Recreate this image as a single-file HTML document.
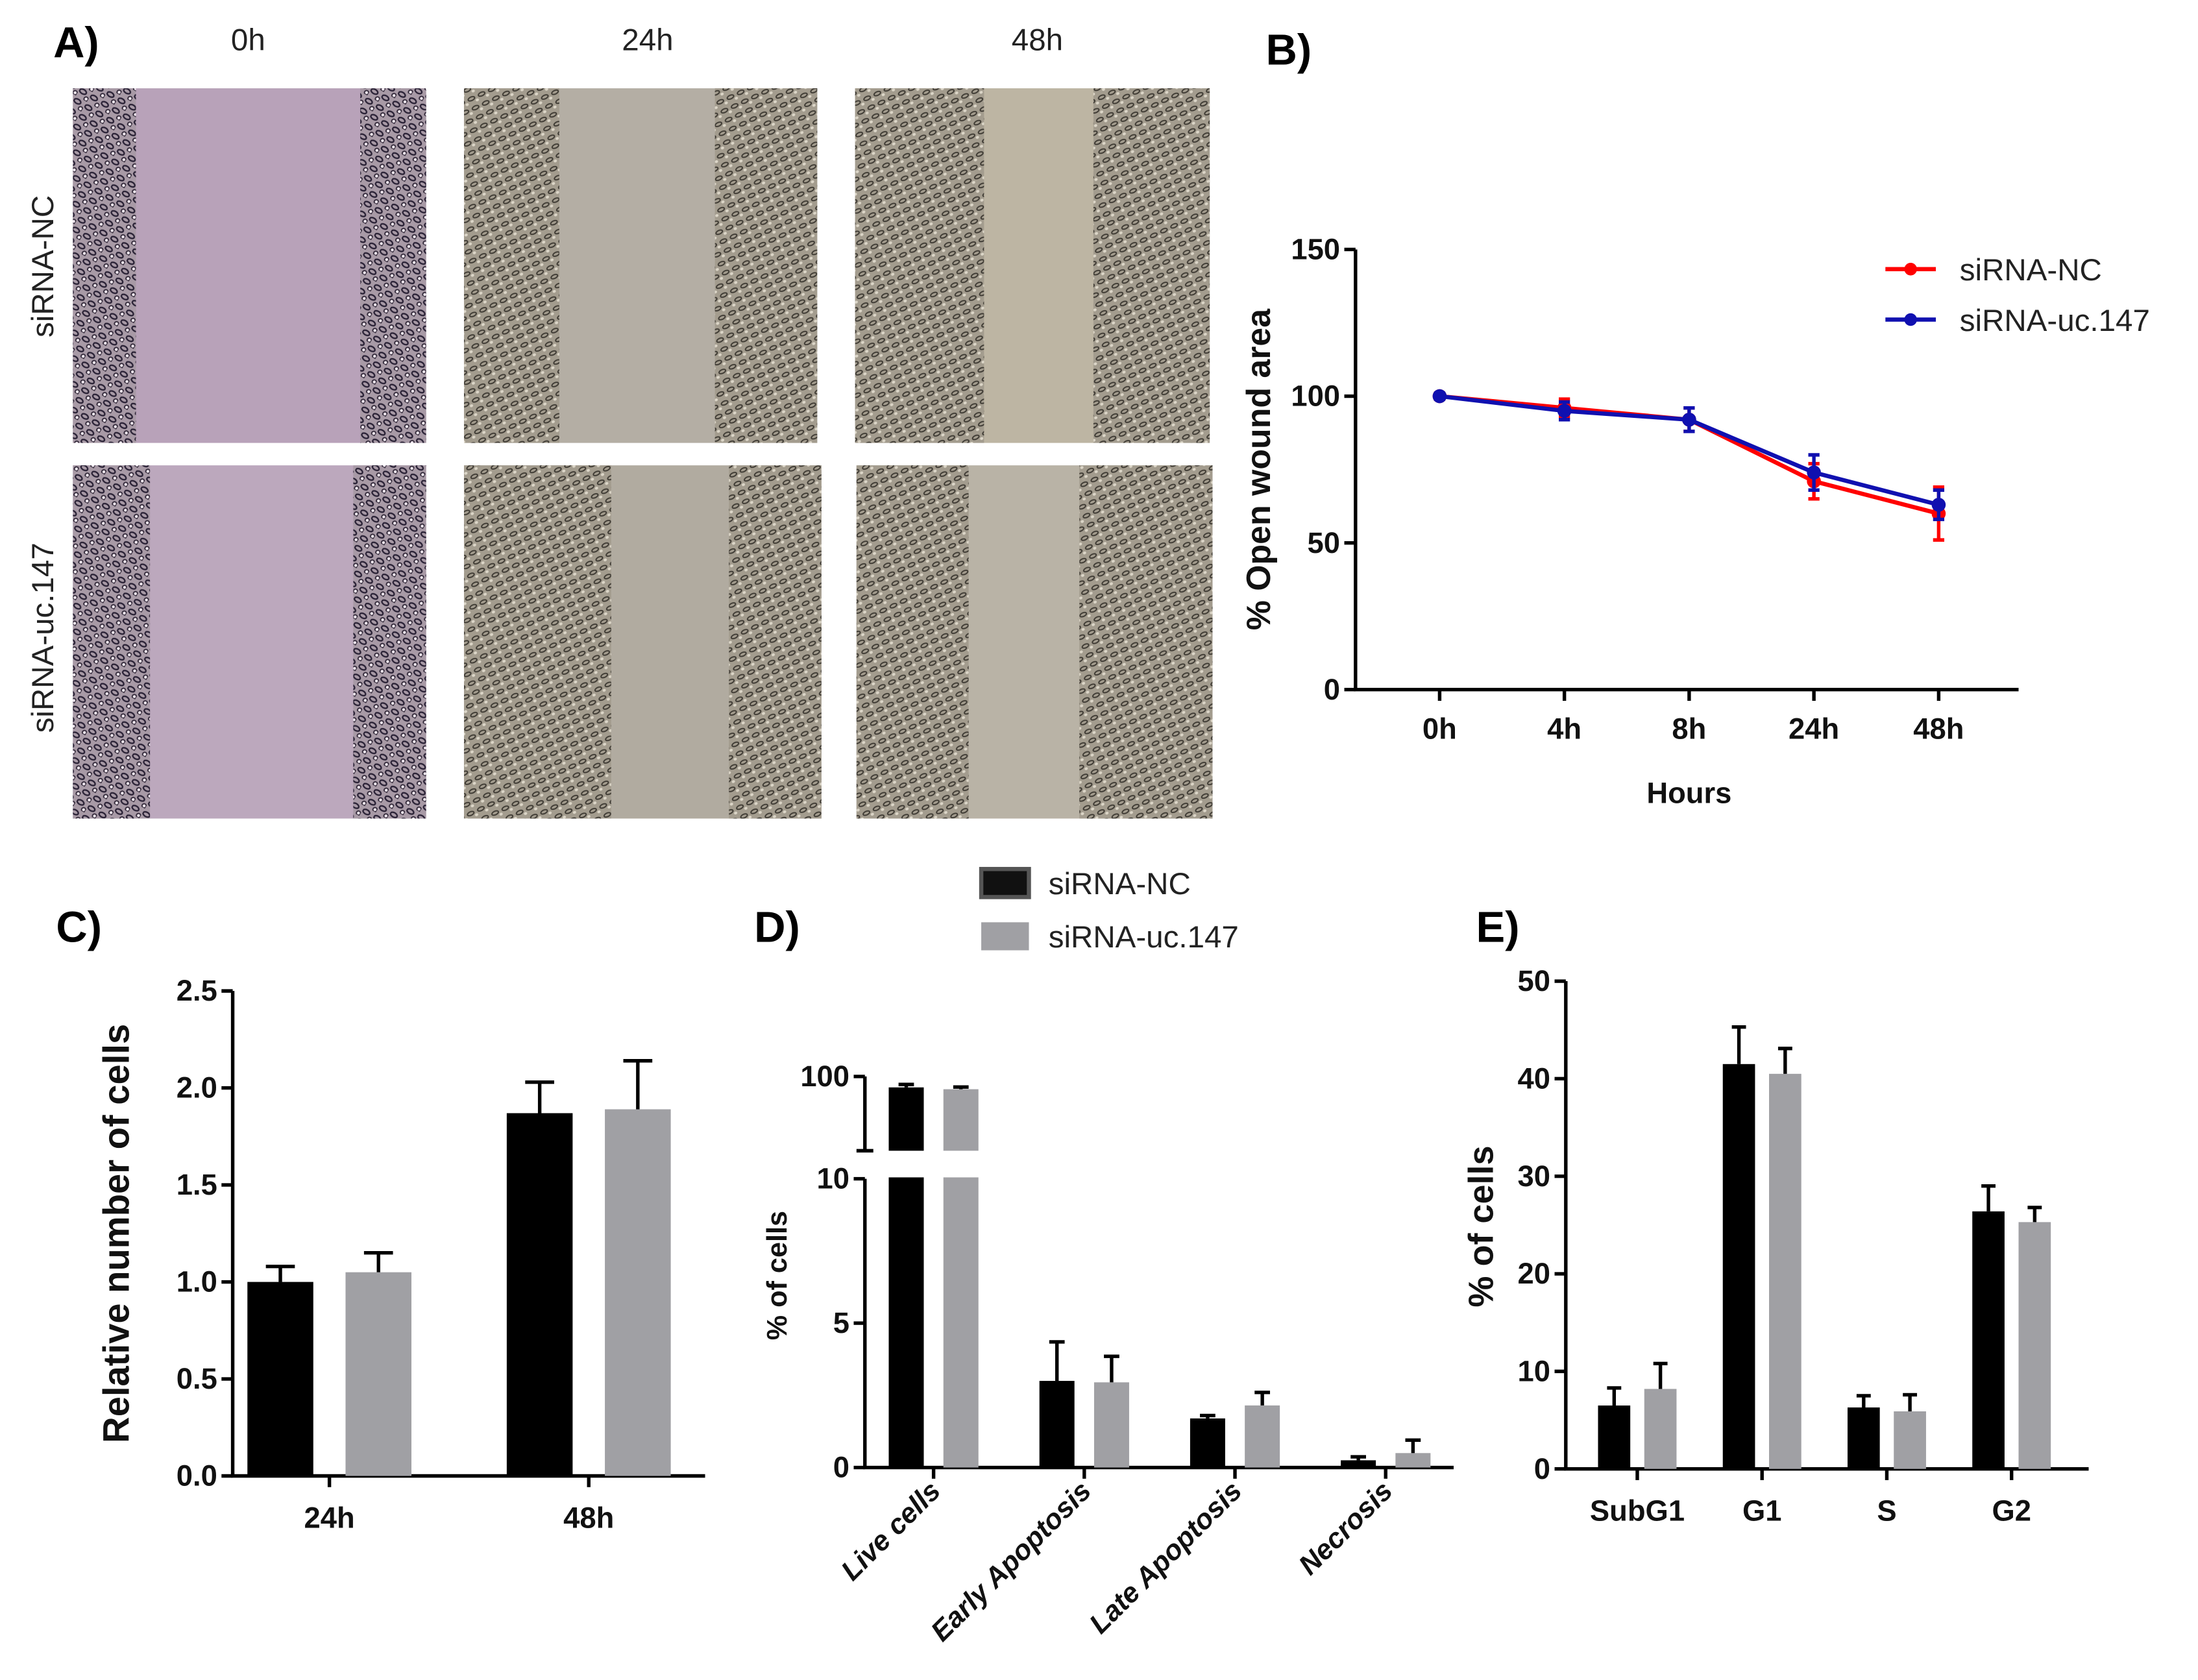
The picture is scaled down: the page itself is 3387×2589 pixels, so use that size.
<!DOCTYPE html>
<html><head><meta charset="utf-8">
<style>
html,body{margin:0;padding:0;background:#fff;}
svg{display:block;}
text{font-family:"Liberation Sans Narrow","Liberation Sans",sans-serif;}
.t{font-weight:bold;font-size:21px;fill:#111;}
.ti{font-family:"Liberation Sans",sans-serif;font-weight:bold;fill:#111;}
.pl{font-family:"Liberation Sans",sans-serif;font-weight:bold;font-size:31px;fill:#000;}
.lg{font-family:"Liberation Sans",sans-serif;font-size:22px;fill:#222;}
</style></head>
<body>
<svg id="fig" width="3387" height="2589" viewBox="0 0 1568 1198.6" preserveAspectRatio="none">
<defs>
<pattern id="cellsP" width="9" height="8" patternUnits="userSpaceOnUse" patternTransform="rotate(30)">
<rect width="9" height="8" fill="#a89aa6"/>
<ellipse cx="3" cy="3" rx="2.6" ry="1.6" fill="none" stroke="#2a2236" stroke-width="1.1"/>
<ellipse cx="7.5" cy="6.5" rx="1.5" ry="1.5" fill="#efe6ee" stroke="#332a3a" stroke-width="0.9"/>
</pattern>
<pattern id="cellsQ" width="8" height="7" patternUnits="userSpaceOnUse" patternTransform="rotate(-25)">
<rect width="8" height="7" fill="#a39c8e"/>
<ellipse cx="3" cy="3" rx="2.5" ry="1.3" fill="none" stroke="#3e3a33" stroke-width="0.9"/>
<ellipse cx="6.5" cy="5.5" rx="1.2" ry="1" fill="#dcd6c8"/>
</pattern>
</defs>

<!-- Panel A -->
<g>
<text class="pl" x="38" y="41">A)</text>
<text class="lg" x="177" y="36" text-anchor="middle">0h</text>
<text class="lg" x="462" y="36" text-anchor="middle">24h</text>
<text class="lg" x="740" y="36" text-anchor="middle">48h</text>
<text class="lg" transform="translate(38,190) rotate(-90)" text-anchor="middle">siRNA-NC</text>
<text class="lg" transform="translate(38,455) rotate(-90)" text-anchor="middle">siRNA-uc.147</text>
<g><rect x="52" y="63" width="252" height="253" fill="#b8a2b9"/><rect x="52" y="63" width="45" height="253" fill="url(#cellsP)"/><rect x="257" y="63" width="47" height="253" fill="url(#cellsP)"/></g>
<g><rect x="331" y="63" width="252" height="253" fill="#b4aea4"/><rect x="331" y="63" width="68" height="253" fill="url(#cellsQ)"/><rect x="510" y="63" width="73" height="253" fill="url(#cellsQ)"/></g>
<g><rect x="610" y="63" width="253" height="253" fill="#bdb5a3"/><rect x="610" y="63" width="92" height="253" fill="url(#cellsQ)"/><rect x="780" y="63" width="83" height="253" fill="url(#cellsQ)"/></g>
<g><rect x="52" y="332" width="252" height="252" fill="#bca8bd"/><rect x="52" y="332" width="55" height="252" fill="url(#cellsP)"/><rect x="252" y="332" width="52" height="252" fill="url(#cellsP)"/></g>
<g><rect x="331" y="332" width="255" height="252" fill="#b1aba0"/><rect x="331" y="332" width="105" height="252" fill="url(#cellsQ)"/><rect x="520" y="332" width="66" height="252" fill="url(#cellsQ)"/></g>
<g><rect x="611" y="332" width="254" height="252" fill="#b9b3a6"/><rect x="611" y="332" width="80" height="252" fill="url(#cellsQ)"/><rect x="770" y="332" width="95" height="252" fill="url(#cellsQ)"/></g>
</g>

<text class="pl" x="903" y="46">B)</text>
<g id="chartB"></g>
<text class="pl" x="40" y="672">C)</text>
<g id="chartC"></g>
<text class="pl" x="538" y="672">D)</text>
<g id="chartD"></g>
<text class="pl" x="1053" y="672">E)</text>
<g id="chartE"></g>
</svg>

<script>
// ---- Panel B data ----
const bCategories = ["0h","4h","8h","24h","48h"];
const bNC = [100, 96, 92, 71, 60];
const bNCerr = [1, 3, 4, 6, 9];
const bUC = [100, 95, 92, 74, 63];
const bUCerr = [1, 3, 4, 6, 5];
const bTicks = [0, 50, 100, 150];
// ---- Panel C data ----
const cCategories = ["24h","48h"];
const cNC = [1.0, 1.87];
const cNCerr = [0.08, 0.16];
const cUC = [1.05, 1.89];
const cUCerr = [0.1, 0.25];
const cTicks = [0, 0.5, 1.0, 1.5, 2.0, 2.5];
// ---- Panel D data ----
const dCategories = ["Live cells","Early Apoptosis","Late Apoptosis","Necrosis"];
const dNC = [97, 3.0, 1.7, 0.25];
const dNCerr = [0.8, 1.35, 0.1, 0.12];
const dUC = [96.5, 2.95, 2.15, 0.5];
const dUCerr = [0.6, 0.9, 0.45, 0.45];
const dTicksLow = [0, 5, 10];
const dTicksHigh = [100];
// ---- Panel E data ----
const eCategories = ["SubG1","G1","S","G2"];
const eNC = [6.5, 41.5, 6.3, 26.4];
const eNCerr = [1.8, 3.8, 1.2, 2.6];
const eUC = [8.2, 40.5, 5.9, 25.3];
const eUCerr = [2.6, 2.6, 1.7, 1.5];
const eTicks = [0, 10, 20, 30, 40, 50];

const NS = "http://www.w3.org/2000/svg";
function mk(parent, tag, attrs, txt){
  const e = document.createElementNS(NS, tag);
  for (const k in attrs) e.setAttribute(k, attrs[k]);
  if (txt !== undefined) e.textContent = txt;
  parent.appendChild(e);
  return e;
}
function fmt(v, d){ return d ? v.toFixed(d) : String(v); }

function yAxis(g, x, yScale, ticks, dec, name){
  for (const t of ticks){
    const y = yScale(t);
    const l = mk(g, "line", {x1:x-8, x2:x, y1:y, y2:y, stroke:"#000","stroke-width":2.5});
    
    
    const tx = mk(g, "text", {x:x-11, y:y+7, "text-anchor":"end", class:"t"}, fmt(t, dec));
    
    
  }
}
function errBar(g, x, y0, y1, col, w, name){
  const a = mk(g, "line", {x1:x, x2:x, y1:y0, y2:y1, stroke:col, "stroke-width":2.5});
  
  
  mk(g, "line", {x1:x-w, x2:x+w, y1:y1, y2:y1, stroke:col, "stroke-width":2.5});
}

// ---- Chart B ----
(function(){
  const g = document.getElementById("chartB");
  const x0 = 967, yB = 492, yT = 178;
  const ys = v => yB - (v/150)*(yB-yT);
  const xs = i => 1027 + i*89;
  const ax = mk(g, "path", {d:`M${x0},${yT} L${x0},${yB} L1440,${yB}`, fill:"none", stroke:"#000", "stroke-width":2.5});
  
  
  yAxis(g, x0, ys, bTicks, 0, 'y-axis');
  bCategories.forEach((c,i)=>{
    mk(g,"line",{x1:xs(i),x2:xs(i),y1:yB,y2:yB+8,stroke:"#000","stroke-width":2.5});
    const t = mk(g,"text",{x:xs(i),y:yB+35,"text-anchor":"middle",class:"t"},c);
    
    
  });
  const xt = mk(g,"text",{x:1205,y:573,"text-anchor":"middle",class:"t","font-size":"25"},"Hours");
  
  
  const yt = mk(g,"text",{transform:"translate(906,335) rotate(-90)","text-anchor":"middle",class:"ti","font-size":"24"},"% Open wound area");
  
  
  const series = [[bNC,bNCerr,"#ff0000","siRNA-NC",-1],[bUC,bUCerr,"#1010b0","siRNA-uc.147",1]];
  series.forEach(([v,e,col,nm,dir],si)=>{
    const line = mk(g,"polyline",{points:v.map((d,i)=>xs(i)+","+ys(d)).join(" "),fill:"none",stroke:col,"stroke-width":3});
    
    
    v.forEach((d,i)=>{
      errBar(g, xs(i), ys(d), ys(d)+(ys(0)-ys(e[i])), col, 4, 'error-bar');
      errBar(g, xs(i), ys(d), ys(d)-(ys(0)-ys(e[i])), col, 4, 'error-bar');
      const p = mk(g,"circle",{cx:xs(i),cy:ys(d),r:5,fill:col});
      
      
    });
    const ly = 192 + si*36;
    const le = mk(g,"line",{x1:1345,x2:1381,y1:ly,y2:ly,stroke:col,"stroke-width":3});
    
    
    mk(g,"circle",{cx:1363,cy:ly,r:4.5,fill:col});
    mk(g,"text",{x:1398,y:ly+8,class:"lg","font-size":"23"},nm);
  });
})();

function barChart(gid, o){
  const g = document.getElementById(gid);
  const ax = mk(g,"path",{d:`M${o.x0},${o.yT} L${o.x0},${o.yB} L${o.x1},${o.yB}`,fill:"none",stroke:"#000","stroke-width":2.5});
  
  
  yAxis(g, o.x0, o.ys, o.ticks, o.dec, 'y-axis');
  o.cats.forEach((c,i)=>{
    const cx = o.cx(i);
    [[o.nc,o.ncE,"#000",-1],[o.uc,o.ucE,"#a0a0a4",1]].forEach(([v,e,col,side])=>{
      const bx = side<0 ? cx - o.gap/2 - o.bw : cx + o.gap/2;
      const y = o.ys(v[i]);
      const r = mk(g,"rect",{x:bx,y:y,width:o.bw,height:o.yB-y,fill:col});
      
      
      errBar(g, bx+o.bw/2, y, o.ys(v[i]+e[i]), "#000", o.bw*0.22, 'error-bar');
    });
    mk(g,"line",{x1:cx,x2:cx,y1:o.yB,y2:o.yB+8,stroke:"#000","stroke-width":2.5});
    let t;
    if (o.rot) t = mk(g,"text",{transform:`translate(${cx+6},${o.yB+18}) rotate(-45)`,"text-anchor":"end",class:"ti","font-size":"20","font-style":"italic"},c);
    else t = mk(g,"text",{x:cx,y:o.yB+37,"text-anchor":"middle",class:"t","font-size":"23"},c);
    
    
  });
  const yt = mk(g,"text",{transform:`translate(${o.tx},${o.ty}) rotate(-90)`,"text-anchor":"middle",class:"ti","font-size":o.tfs},o.title);
  
  
  return g;
}

// ---- Chart C ----
barChart("chartC",{x0:166,x1:503,yB:1053,yT:707,ys:v=>1053-(v/2.5)*346,ticks:cTicks,dec:1,
  cats:cCategories,cx:i=>235+i*185,bw:47,gap:23,nc:cNC,ncE:cNCerr,uc:cUC,ucE:cUCerr,
  title:"Relative number of cells",tx:92,ty:880,tfs:26});

// ---- Chart D (broken axis) ----
(function(){
  const yB=1047, y10=841;
  const low = v => yB - (v/10)*(yB-y10);
  const high = v => 768 + (100-v)/20*52;
  const ys = v => v>10 ? high(v) : low(v);
  const g = barChart("chartD",{x0:617,x1:1037,yB:yB,yT:y10,ys:ys,ticks:dTicksLow,dec:0,
    cats:dCategories,cx:i=>666+i*107.5,bw:25,gap:14,nc:dNC,ncE:dNCerr,uc:dUC,ucE:dUCerr,rot:true,
    title:"% of cells",tx:561,ty:910,tfs:20});
  // cover break gap (bars only)
  const cover = mk(g,"rect",{x:619,y:821,width:100,height:19,fill:"#fff"});
  
  
  const cover2 = mk(g,"rect",{x:612,y:823,width:10,height:16,fill:"#fff"});
  
  
  const up = mk(g,"path",{d:"M617,768 L617,821 M611,821 L623,821",fill:"none",stroke:"#000","stroke-width":2.5});
  
  
  yAxis(g, 617, high, dTicksHigh, 0, 'y-axis-upper');
  // legend
  [["siRNA-NC","#111"],["siRNA-uc.147","#a0a0a4"]].forEach(([nm,col],i)=>{
    const y = 630 + i*38;
    const s = mk(g,"rect",{x:700,y:y-10,width:34,height:20,fill:col,stroke:i?"none":"#555","stroke-width":3});
    
    
    const t = mk(g,"text",{x:748,y:y+8,class:"lg"},nm);
    
    
  });
})();

// ---- Chart E ----
barChart("chartE",{x0:1117,x1:1490,yB:1048,yT:700,ys:v=>1048-(v/50)*348,ticks:eTicks,dec:0,
  cats:eCategories,cx:i=>1168+i*89,bw:23,gap:10,nc:eNC,ncE:eNCerr,uc:eUC,ucE:eUCerr,
  title:"% of cells",tx:1065,ty:875,tfs:25});
</script>
</body></html>
